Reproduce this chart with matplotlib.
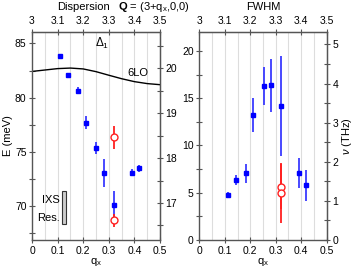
import numpy as np
import matplotlib.pyplot as plt
from matplotlib.patches import Rectangle

plt.rcParams['font.family'] = ['Liberation Sans', 'DejaVu Sans']
plt.rcParams['font.size'] = 7.5
plt.rcParams['mathtext.fontset'] = 'custom'
plt.rcParams['mathtext.rm'] = 'Liberation Sans'
plt.rcParams['mathtext.it'] = 'Liberation Sans:italic'
plt.rcParams['mathtext.bf'] = 'Liberation Sans:bold'

MEV_PER_THZ = 4.1357

# dispersion (left panel)
q_disp = [0.111, 0.141, 0.178, 0.21, 0.249, 0.28, 0.319, 0.39, 0.419]
e_disp = [83.8, 82.1, 80.65, 77.7, 75.4, 73.1, 70.1, 73.1, 73.5]
e_disp_err = [0.15, 0.2, 0.3, 0.6, 0.55, 1.3, 1.3, 0.3, 0.35]

q_disp_red = [0.32, 0.32]
e_disp_red = [76.35, 68.7]
e_disp_red_err = [1.05, 0.6]

# 6LO branch
q_lo = [0.0, 0.05, 0.1, 0.15, 0.2, 0.25, 0.3, 0.35, 0.4, 0.45, 0.5]
e_lo = [82.42, 82.55, 82.68, 82.73, 82.65, 82.4, 82.07, 81.75, 81.48, 81.3, 81.2]

# FWHM (right panel)
q_fwhm = [0.111, 0.143, 0.182, 0.212, 0.253, 0.283, 0.321, 0.392, 0.42]
fwhm = [4.75, 6.35, 7.05, 13.2, 16.3, 16.35, 14.2, 7.1, 5.8]
fwhm_err = [0.3, 0.55, 1.0, 1.8, 2.0, 2.8, 5.3, 1.6, 1.65]

q_fwhm_red = [0.32, 0.32]
fwhm_red = [5.65, 5.0]
fwhm_red_err = [2.4, 3.15]

blue = '#0000ff'
ebar_blue = '#3a3aff'
red = '#ff2020'
spine_col = '#555555'

fig = plt.figure(figsize=(3.53, 2.71), dpi=100)
ax1 = fig.add_axes([0.0907, 0.1144, 0.3626, 0.7675])
ax2 = fig.add_axes([0.5646, 0.1144, 0.3609, 0.7675])


def style(ax, ylim, major, minor):
    ax.set_xlim(0, 0.5)
    ax.set_ylim(*ylim)
    ax.set_xticks(np.arange(0, 0.51, 0.1))
    ax.set_xticks(np.arange(0.05, 0.5, 0.05), minor=True)
    ax.set_xticklabels(['0', '0.1', '0.2', '0.3', '0.4', '0.5'])
    ax.set_yticks(major)
    ax.set_yticks(minor, minor=True)
    for x in np.arange(0.05, 0.5, 0.05):
        ax.axvline(x, color='#dddddd', lw=0.8, zorder=0)
    ax.tick_params(which='both', direction='inout', length=5, width=0.8,
                   color=spine_col, labelsize=7.5, pad=1.5)
    ax.tick_params(axis='x', which='minor', length=0)
    for s in ax.spines.values():
        s.set_color(spine_col)
        s.set_linewidth(1.0)
    ax.set_xlabel('q$_\\mathregular{x}$', labelpad=0, fontsize=8)
    top = ax.secondary_xaxis('top', functions=(lambda q: q + 3, lambda h: h - 3))
    top.set_xticks(np.arange(3, 3.51, 0.1))
    top.set_xticklabels(['3', '3.1', '3.2', '3.3', '3.4', '3.5'])
    top.tick_params(direction='inout', length=5, width=0.8, color=spine_col,
                    labelsize=7.5, pad=1.5)
    top.spines['top'].set_color(spine_col)
    right = ax.secondary_yaxis('right', functions=(lambda e: e / MEV_PER_THZ,
                                                   lambda v: v * MEV_PER_THZ))
    right.tick_params(which='both', direction='inout', length=5, width=0.8,
                      color=spine_col, labelsize=7.5, pad=1.5)
    right.spines['right'].set_color(spine_col)
    return right


# left panel
r1 = style(ax1, (66.9, 86.05), [70, 75, 80, 85], [67.5, 72.5, 77.5, 82.5])
r1.set_yticks([17, 18, 19, 20])
r1.set_yticks([16.5, 17.5, 18.5, 19.5, 20.5], minor=True)
ax1.plot(q_lo, e_lo, color='black', lw=1.0, zorder=2)
ax1.errorbar(q_disp, e_disp, yerr=e_disp_err, fmt='s', ms=3.2, color=blue,
             ecolor=ebar_blue, elinewidth=1.3, capsize=0, zorder=3)
ax1.errorbar(q_disp_red, e_disp_red, yerr=e_disp_red_err, fmt='o', ms=5,
             mfc='white', mec=red, mew=1.0, ecolor=red, elinewidth=1.3,
             capsize=0, zorder=3)
ax1.text(0.245, 85.0, '$\\Delta_1$', fontsize=8.5, ha='left', va='center')
ax1.text(0.372, 82.3, '6LO', fontsize=8, ha='left', va='center')
ax1.add_patch(Rectangle((0.118, 68.4), 0.016, 3.0, facecolor='#cccccc',
                        edgecolor='#333333', lw=0.8, zorder=3))
ax1.text(0.108, 70.6, 'IXS', fontsize=8, ha='right', va='center')
ax1.text(0.108, 68.9, 'Res.', fontsize=8, ha='right', va='center')
ax1.set_ylabel('E (meV)', labelpad=1, fontsize=8)

# right panel
r2 = style(ax2, (0, 22), [0, 5, 10, 15, 20], [2.5, 7.5, 12.5, 17.5])
r2.set_yticks([0, 1, 2, 3, 4, 5])
r2.set_yticks(np.arange(0.5, 5.5, 1.0), minor=True)
r2.set_ylabel('$\\nu$ (THz)', labelpad=1, fontsize=8)
ax2.errorbar(q_fwhm, fwhm, yerr=fwhm_err, fmt='s', ms=3.2, color=blue,
             ecolor=ebar_blue, elinewidth=1.3, capsize=0, zorder=3)
ax2.errorbar(q_fwhm_red, fwhm_red, yerr=fwhm_red_err, fmt='o', ms=5,
             mfc='white', mec=red, mew=1.0, ecolor=red, elinewidth=1.3,
             capsize=0, zorder=3)

fig.text(110 / 353, 1 - 7 / 271, 'Dispersion', ha='right', va='center', fontsize=8)
fig.text(118 / 353, 1 - 7 / 271, '$\\mathbf{Q}$ = (3+q$_\\mathregular{x}$,0,0)',
         ha='left', va='center', fontsize=8)
fig.text(263 / 353, 1 - 7 / 271, 'FWHM', ha='center', va='center', fontsize=8)

fig.savefig('out.png', dpi=100)
